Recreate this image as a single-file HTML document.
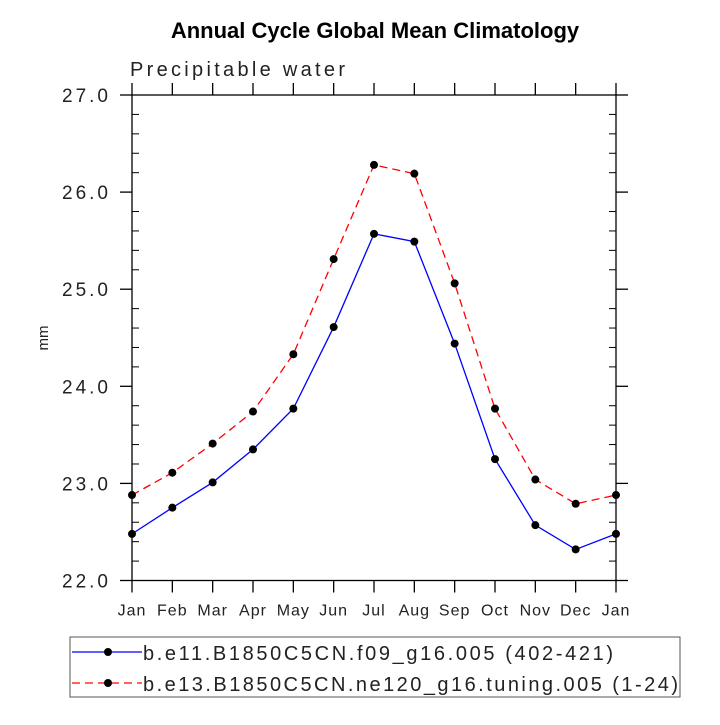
<!DOCTYPE html>
<html><head><meta charset="utf-8"><style>
body{margin:0;background:#fff;}
svg text{font-family:"Liberation Sans",sans-serif;}
</style></head><body>
<svg id="c" width="720" height="720" xmlns="http://www.w3.org/2000/svg">
<text x="375" y="38" text-anchor="middle" font-size="22" font-weight="bold">Annual Cycle Global Mean Climatology</text>
<text x="130" y="76" font-size="20" fill="#222" textLength="215" lengthAdjust="spacing">Precipitable water</text>
<text transform="translate(48,338) rotate(-90)" text-anchor="middle" font-size="15" fill="#222">mm</text>
<g id="axes"></g>
<g id="series"></g>
<rect x="70" y="637" width="610" height="60" fill="none" stroke="#555" stroke-width="1"/>
<g>
<line x1="72" y1="652" x2="142" y2="652" stroke="#0000ff" stroke-width="1.3"/>
<circle cx="108" cy="652" r="4" fill="#000"/>
<text x="143" y="660" font-size="20" fill="#222" textLength="470" lengthAdjust="spacing">b.e11.B1850C5CN.f09_g16.005 (402-421)</text>
</g>
<g>
<line x1="72" y1="683" x2="142" y2="683" stroke="#ff0000" stroke-width="1.3" stroke-dasharray="8,5"/>
<circle cx="108" cy="683" r="4" fill="#000"/>
<text x="143" y="691" font-size="20" fill="#222" textLength="535" lengthAdjust="spacing">b.e13.B1850C5CN.ne120_g16.tuning.005 (1-24)</text>
</g>
</svg>
<script>
const months=["Jan","Feb","Mar","Apr","May","Jun","Jul","Aug","Sep","Oct","Nov","Dec","Jan"];
const seriesA=[22.48,22.75,23.01,23.35,23.77,24.61,25.57,25.49,24.44,23.25,22.57,22.32,22.48];
const seriesB=[22.88,23.11,23.41,23.74,24.33,25.31,26.28,26.19,25.06,23.77,23.04,22.79,22.88];
const yTicks=[22,23,24,25,26,27];
const yTickLabels=["22.0","23.0","24.0","25.0","26.0","27.0"];
const L=132,R=616,T=95,B=580.5,yMin=22,yMax=27;
const xs=i=>L+(R-L)*i/(months.length-1);
const ys=v=>B-(B-T)*(v-yMin)/(yMax-yMin);
const NS="http://www.w3.org/2000/svg";
function mk(tag,attrs,parent){const e=document.createElementNS(NS,tag);for(const k in attrs)e.setAttribute(k,attrs[k]);parent.appendChild(e);return e;}
const ax=document.getElementById("axes");
const frame=mk("rect",{x:L,y:T,width:R-L,height:B-T,fill:"none",stroke:"#000","stroke-width":1.3},ax);


months.forEach((m,i)=>{
  const x=xs(i);
  mk("line",{x1:x,y1:B,x2:x,y2:B+12,stroke:"#000","stroke-width":1.3},ax);
  mk("line",{x1:x,y1:T,x2:x,y2:T-12,stroke:"#000","stroke-width":1.3},ax);
  const t=mk("text",{x:x,y:B+35,"text-anchor":"middle","font-size":16,fill:"#222","letter-spacing":1},ax);
  t.textContent=m;
  
  
});
yTicks.forEach((v,i)=>{
  const y=ys(v);
  mk("line",{x1:L-12,y1:y,x2:L,y2:y,stroke:"#000","stroke-width":1.3},ax);
  mk("line",{x1:R,y1:y,x2:R+12,y2:y,stroke:"#000","stroke-width":1.3},ax);
  const t=mk("text",{x:62,y:y+7,"font-size":19,fill:"#222",textLength:46,lengthAdjust:"spacing"},ax);
  t.textContent=yTickLabels[i];
  
  
  if(i<yTicks.length-1){for(let k=1;k<5;k++){const yy=ys(v+k*0.2);
    mk("line",{x1:L,y1:yy,x2:L+7,y2:yy,stroke:"#000","stroke-width":1},ax);
    mk("line",{x1:R-7,y1:yy,x2:R,y2:yy,stroke:"#000","stroke-width":1},ax);}}
});
const sg=document.getElementById("series");
function draw(vals,color,dash,name){
  const p=mk("polyline",{points:vals.map((v,i)=>xs(i)+","+ys(v)).join(" "),fill:"none",stroke:color,"stroke-width":1.3},sg);
  if(dash)p.setAttribute("stroke-dasharray",dash);
  
  
  vals.forEach((v,i)=>{const c=mk("circle",{cx:xs(i),cy:ys(v),r:4,fill:"#000"},sg);
    
    });
}
draw(seriesA,"#0000ff",null,"series-f09");
draw(seriesB,"#ff0000","8,5","series-ne120");
</script>
</body></html>
